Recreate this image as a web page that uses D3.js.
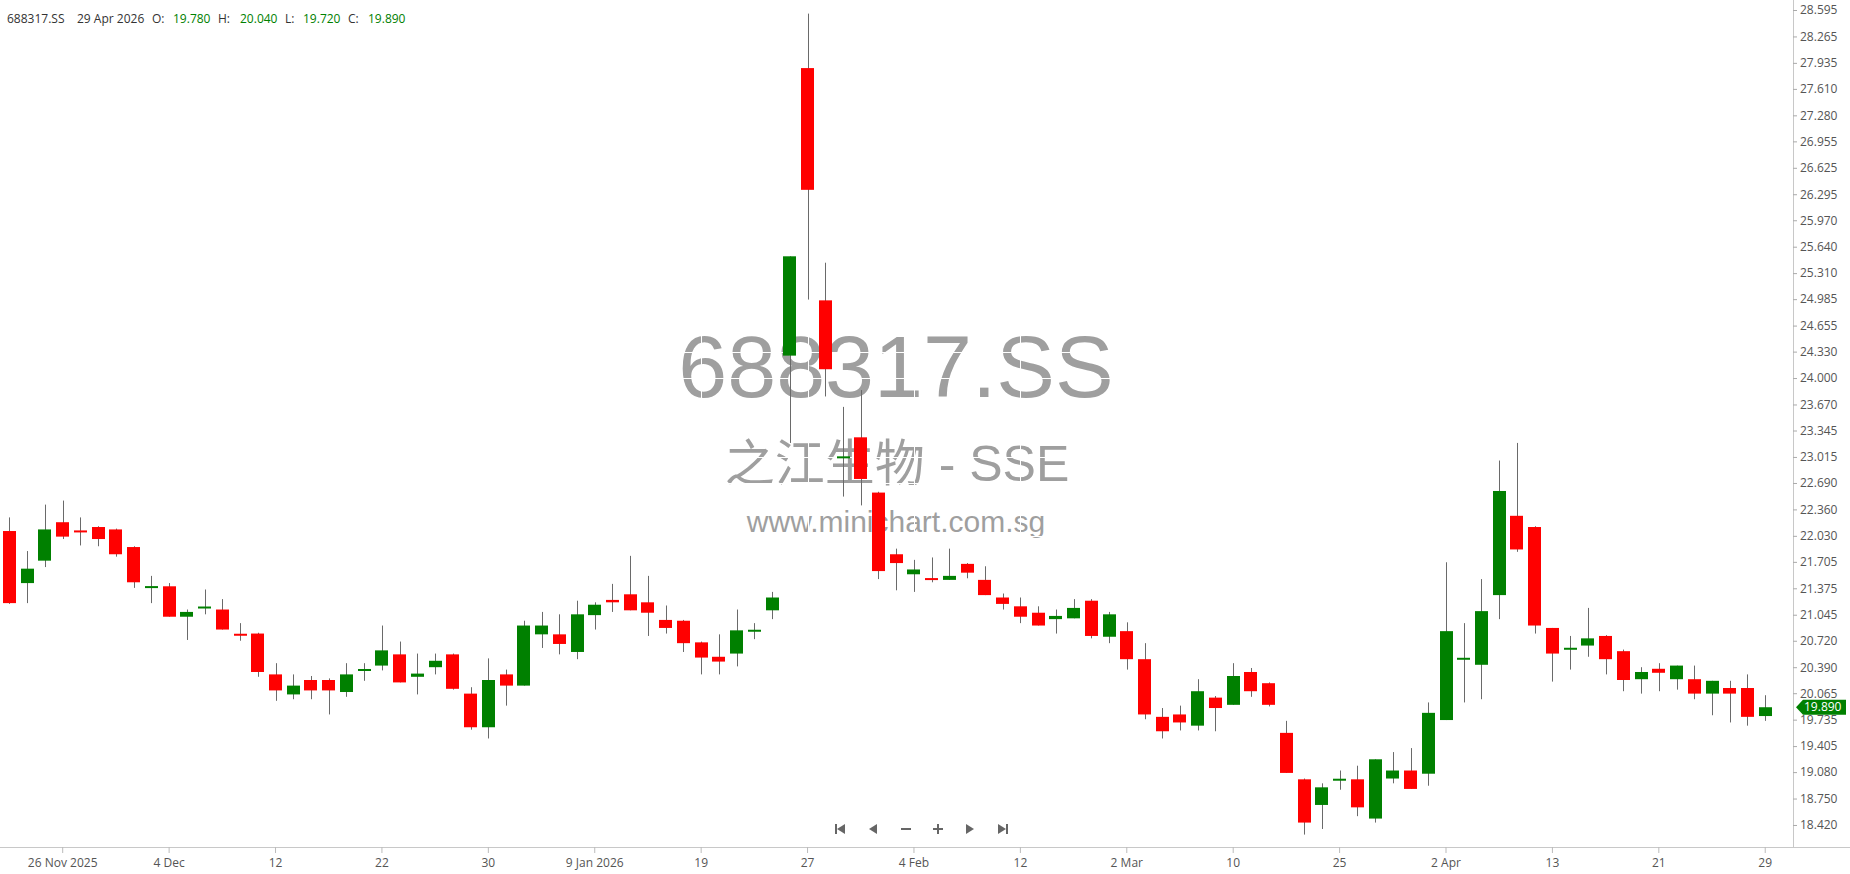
<!DOCTYPE html>
<html>
<head>
<meta charset="utf-8">
<script src="https://cdn.jsdelivr.net/npm/d3@7"></script>
<style>
  html, body { margin: 0; padding: 0; background: #ffffff; }
  svg { display: block; }
  text { font-family: "Open Sans", "Noto Sans", sans-serif; }
  text.wm { font-family: "Liberation Sans", Arial, "Noto Sans CJK SC", sans-serif; }
</style>
</head>
<body>
<svg id="chart" width="1850" height="874"></svg>
<script>
// ---------------- DATA ----------------
const symbol = "688317.SS";
const companyName = "之江生物 - SSE";
const siteName = "www.minichart.com.sg";

const dates = [
  "2025-11-21","2025-11-24","2025-11-25","2025-11-26","2025-11-27","2025-11-28",
  "2025-12-01","2025-12-02","2025-12-03","2025-12-04","2025-12-05","2025-12-08",
  "2025-12-09","2025-12-10","2025-12-11","2025-12-12","2025-12-15","2025-12-16",
  "2025-12-17","2025-12-18","2025-12-19","2025-12-22","2025-12-23","2025-12-24",
  "2025-12-25","2025-12-26","2025-12-29","2025-12-30","2025-12-31","2026-01-05",
  "2026-01-06","2026-01-07","2026-01-08","2026-01-09","2026-01-12","2026-01-13",
  "2026-01-14","2026-01-15","2026-01-16","2026-01-19","2026-01-20","2026-01-21",
  "2026-01-22","2026-01-23","2026-01-26","2026-01-27","2026-01-28","2026-01-29",
  "2026-01-30","2026-02-02","2026-02-03","2026-02-04","2026-02-05","2026-02-06",
  "2026-02-09","2026-02-10","2026-02-11","2026-02-12","2026-02-13","2026-02-24",
  "2026-02-25","2026-02-26","2026-02-27","2026-03-02","2026-03-03","2026-03-04",
  "2026-03-05","2026-03-06","2026-03-09","2026-03-10","2026-03-11","2026-03-12",
  "2026-03-13","2026-03-23","2026-03-24","2026-03-25","2026-03-26","2026-03-27",
  "2026-03-30","2026-03-31","2026-04-01","2026-04-02","2026-04-03","2026-04-07",
  "2026-04-08","2026-04-09","2026-04-10","2026-04-13","2026-04-14","2026-04-15",
  "2026-04-16","2026-04-17","2026-04-20","2026-04-21","2026-04-22","2026-04-23",
  "2026-04-24","2026-04-27","2026-04-28","2026-04-29"
];

const open = [
  22.09,21.44,21.72,22.20,22.09,22.14,22.11,21.89,21.38,21.40,
  21.02,21.13,21.11,20.80,20.81,20.30,20.05,20.23,20.23,20.08,
  20.35,20.41,20.55,20.27,20.39,20.55,20.06,19.64,20.30,20.16,
  20.80,20.80,20.58,21.04,21.23,21.30,21.20,20.98,20.97,20.70,
  20.52,20.56,20.84,21.10,24.28,27.87,24.97,23.00,23.26,22.57,
  21.80,21.55,21.50,21.48,21.68,21.48,21.26,21.15,21.07,20.99,
  21.00,21.22,20.77,20.84,20.49,19.77,19.80,19.66,20.01,19.92,
  20.33,20.19,19.57,18.99,18.67,18.98,18.99,18.50,19.00,19.10,
  19.06,19.73,20.49,20.42,21.29,22.28,22.14,20.88,20.61,20.66,
  20.78,20.59,20.24,20.37,20.24,20.24,20.06,20.13,20.13,19.78
];
const high = [
  22.26,21.84,22.42,22.47,22.26,22.15,22.12,21.90,21.53,21.44,
  21.11,21.36,21.24,20.94,20.82,20.44,20.30,20.28,20.25,20.44,
  20.44,20.91,20.71,20.56,20.56,20.56,20.14,20.50,20.36,20.97,
  21.08,21.05,21.22,21.20,21.43,21.78,21.53,21.16,20.98,20.71,
  20.80,21.11,20.94,21.33,25.52,28.55,25.44,23.64,23.85,22.58,
  21.87,21.73,21.76,21.87,21.69,21.65,21.31,21.26,21.15,21.11,
  21.24,21.24,21.08,20.95,20.69,19.88,19.91,20.24,20.03,20.44,
  20.38,20.20,19.72,19.00,18.94,19.10,19.16,19.24,19.33,19.38,
  19.95,21.70,20.94,21.49,22.97,23.19,22.15,20.88,20.78,21.13,
  20.79,20.61,20.39,20.44,20.41,20.41,20.22,20.22,20.30,20.04
];
const low = [
  21.18,21.19,21.64,21.99,21.91,21.90,21.77,21.38,21.19,21.02,
  20.73,21.05,20.86,20.72,20.27,19.97,19.99,19.99,19.80,20.02,
  20.22,20.35,20.20,20.05,20.30,20.11,19.61,19.50,19.91,20.16,
  20.63,20.55,20.49,20.86,21.08,21.10,20.78,20.81,20.58,20.30,
  20.30,20.40,20.74,20.99,23.19,24.98,23.77,22.52,22.41,21.49,
  21.35,21.33,21.45,21.48,21.50,21.29,21.11,20.94,20.91,20.81,
  21.00,20.75,20.69,20.36,19.74,19.50,19.60,19.60,19.59,19.92,
  20.02,19.90,19.07,18.30,18.37,18.86,18.53,18.45,18.94,18.87,
  18.91,19.73,19.95,19.99,20.99,21.83,20.81,20.21,20.36,20.52,
  20.30,20.09,20.06,20.09,20.11,19.99,19.79,19.70,19.66,19.72
];
const close = [
  21.19,21.62,22.11,22.02,22.08,21.99,21.80,21.45,21.40,21.02,
  21.08,21.14,20.86,20.79,20.33,20.10,20.16,20.10,20.10,20.30,
  20.36,20.60,20.20,20.31,20.47,20.12,19.64,20.23,20.16,20.91,
  20.91,20.68,21.05,21.17,21.20,21.10,21.07,20.88,20.69,20.51,
  20.46,20.85,20.85,21.26,25.52,26.35,24.11,23.02,22.74,21.59,
  21.69,21.61,21.48,21.53,21.57,21.29,21.18,21.02,20.91,21.03,
  21.13,20.78,21.05,20.49,19.80,19.59,19.70,20.09,19.88,20.28,
  20.09,19.92,19.07,18.45,18.89,18.99,18.64,19.24,19.10,18.87,
  19.82,20.84,20.50,21.09,22.59,21.86,20.91,20.56,20.63,20.75,
  20.49,20.23,20.33,20.32,20.41,20.06,20.22,20.06,19.77,19.89
];

const yTicks = [
  28.595,28.265,27.935,27.610,27.280,26.955,26.625,26.295,25.970,25.640,
  25.310,24.985,24.655,24.330,24.000,23.670,23.345,23.015,22.690,22.360,
  22.030,21.705,21.375,21.045,20.720,20.390,20.065,19.735,19.405,19.080,
  18.750,18.420
];
const xTickDates = [
  "2025-11-26","2025-12-04","2025-12-12","2025-12-22","2025-12-30","2026-01-09",
  "2026-01-19","2026-01-27","2026-02-04","2026-02-12","2026-03-02","2026-03-10",
  "2026-03-25","2026-04-02","2026-04-13","2026-04-21","2026-04-29"
];
const xTickLabels = [
  "26 Nov 2025","4 Dec","12","22","30","9 Jan 2026",
  "19","27","4 Feb","12","2 Mar","10",
  "25","2 Apr","13","21","29"
];
const headerDate = "29 Apr 2026";

// ---------------- CHART ----------------
const W = 1850, H = 874;
const plotRight = 1793, plotBottom = 847;
const svg = d3.select("#chart");
svg.append("rect").attr("width", W).attr("height", H).attr("fill", "#ffffff");

const candles = dates.map((d, i) => ({ date: d, o: open[i], h: high[i], l: low[i], c: close[i] }));

const x = d3.scaleBand().domain(dates).range([0.63, 1774.1]).paddingInner(0.27).paddingOuter(0.135);
const y = d3.scaleLinear().domain([18.145, 28.72]).range([plotBottom, 0]);
const cx = d => x(d) + x.bandwidth() / 2;

// watermark
const wm = svg.append("g").attr("fill", "#9f9f9f").attr("text-anchor", "middle");
wm.append("text").attr("class", "wm").attr("x", 896).attr("y", 397).attr("font-size", 88).text(symbol);
wm.append("text").attr("class", "wm").attr("x", 897).attr("y", 481).attr("font-size", 50).text(companyName);
wm.append("text").attr("class", "wm").attr("x", 896).attr("y", 532).attr("font-size", 30).text(siteName);

// white grid lines (visible only over the watermark)
const grid = svg.append("g").attr("stroke", "#ffffff").attr("stroke-width", 1);
grid.selectAll("line.gy").data(yTicks).join("line").attr("class", "gy")
  .attr("x1", 0).attr("x2", plotRight)
  .attr("y1", d => Math.round(y(d)) + 0.5).attr("y2", d => Math.round(y(d)) + 0.5);
grid.selectAll("line.gx").data(xTickDates).join("line").attr("class", "gx")
  .attr("x1", d => Math.round(cx(d)) + 0.5).attr("x2", d => Math.round(cx(d)) + 0.5)
  .attr("y1", 0).attr("y2", plotBottom);

// candles
const cg = svg.append("g");
cg.selectAll("line.wick").data(candles).join("line").attr("class", "wick")
  .attr("x1", d => Math.round(cx(d.date)) + 0.5).attr("x2", d => Math.round(cx(d.date)) + 0.5)
  .attr("y1", d => y(d.h)).attr("y2", d => y(d.l))
  .attr("stroke", "#6a6a6a").attr("stroke-width", 1);

const bw = Math.round(x.bandwidth());
cg.selectAll("rect.body").data(candles).join("rect").attr("class", "body")
  .attr("x", d => Math.round(cx(d.date) - bw / 2))
  .attr("width", bw)
  .attr("y", d => {
    const t = y(Math.max(d.o, d.c)), b = y(Math.min(d.o, d.c));
    return (b - t) < 2 ? (t + b) / 2 - 1 : t;
  })
  .attr("height", d => Math.max(2, y(Math.min(d.o, d.c)) - y(Math.max(d.o, d.c))))
  .attr("fill", d => d.c >= d.o ? "#008000" : "#ff0000");

// y axis (right)
svg.append("line").attr("x1", plotRight + 0.5).attr("x2", plotRight + 0.5)
  .attr("y1", 0).attr("y2", plotBottom).attr("stroke", "#c8c8c8");
const yAxis = svg.append("g").attr("transform", `translate(${plotRight},0)`)
  .call(d3.axisRight(y).tickValues(yTicks).tickSize(4).tickPadding(3).tickFormat(d3.format(".3f")));
yAxis.select(".domain").remove();
yAxis.selectAll(".tick line").attr("stroke", "#aaaaaa");
yAxis.selectAll(".tick text").attr("fill", "#555555").attr("font-size", 12)
  .style("font-family", "'Open Sans', sans-serif");

// x axis (bottom)
svg.append("line").attr("x1", 0).attr("x2", W).attr("y1", plotBottom + 0.5).attr("y2", plotBottom + 0.5)
  .attr("stroke", "#c8c8c8");
const labelOf = d => xTickLabels[xTickDates.indexOf(d)];
const xAxis = svg.append("g").attr("transform", `translate(0,${plotBottom})`)
  .call(d3.axisBottom(x).tickValues(xTickDates).tickSize(6).tickPadding(5).tickFormat(labelOf));
xAxis.select(".domain").remove();
xAxis.selectAll(".tick line").attr("stroke", "#bbbbbb");
xAxis.selectAll(".tick text").attr("fill", "#555555").attr("font-size", 12)
  .style("font-family", "'Open Sans', sans-serif");

// last price tag
const last = candles[candles.length - 1];
const ty = y(last.c);
const tagColor = last.c >= last.o ? "#008000" : "#ff0000";
svg.append("path")
  .attr("d", `M${plotRight + 3},${ty} L${plotRight + 10},${ty - 7.5} L${W - 4},${ty - 7.5} L${W - 4},${ty + 7.5} L${plotRight + 10},${ty + 7.5} Z`)
  .attr("fill", tagColor);
svg.append("text").attr("x", plotRight + 11).attr("y", ty).attr("dy", "0.35em")
  .attr("fill", "#ffffff").attr("font-size", 12).text(d3.format(".3f")(last.c));

// header
const hdr = svg.append("g").attr("font-size", 12);
const valColor = last.c >= last.o ? "#008000" : "#ff0000";
const hdrItems = [
  { t: symbol, x: 7, c: "#333333" },
  { t: headerDate, x: 77, c: "#333333" },
  { t: "O:", x: 152, c: "#333333" },
  { t: d3.format(".3f")(last.o), x: 173, c: valColor },
  { t: "H:", x: 218, c: "#333333" },
  { t: d3.format(".3f")(last.h), x: 240, c: valColor },
  { t: "L:", x: 285, c: "#333333" },
  { t: d3.format(".3f")(last.l), x: 303, c: valColor },
  { t: "C:", x: 348, c: "#333333" },
  { t: d3.format(".3f")(last.c), x: 368, c: valColor }
];
hdr.selectAll("text").data(hdrItems).join("text")
  .attr("x", d => d.x).attr("y", 22.5).attr("fill", d => d.c).text(d => d.t);

// navigation buttons
const nav = svg.append("g").attr("fill", "#666666").attr("stroke", "none");
const ny = 829;
nav.append("rect").attr("x", 835).attr("y", ny - 5).attr("width", 2).attr("height", 10);
nav.append("path").attr("d", `M837,${ny} L845,${ny - 5} L845,${ny + 5} Z`);
nav.append("path").attr("d", `M869,${ny} L877,${ny - 5} L877,${ny + 5} Z`);
nav.append("rect").attr("x", 901).attr("y", ny - 1).attr("width", 10).attr("height", 2);
nav.append("rect").attr("x", 933).attr("y", ny - 1).attr("width", 10).attr("height", 2);
nav.append("rect").attr("x", 937).attr("y", ny - 5).attr("width", 2).attr("height", 10);
nav.append("path").attr("d", `M974,${ny} L966,${ny - 5} L966,${ny + 5} Z`);
nav.append("path").attr("d", `M1006,${ny} L998,${ny - 5} L998,${ny + 5} Z`);
nav.append("rect").attr("x", 1006).attr("y", ny - 5).attr("width", 2).attr("height", 10);
</script>
</body>
</html>
